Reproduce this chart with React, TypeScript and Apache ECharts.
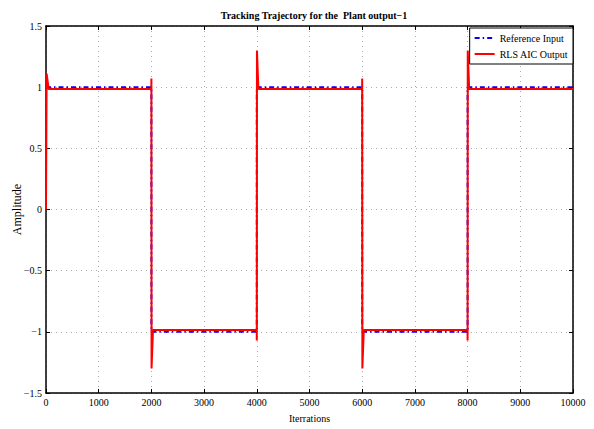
import React, { useEffect, useRef } from "react";
import * as echarts from "echarts";

const refX = [0, 2000, 2000, 4000, 4000, 6000, 6000, 8000, 8000, 10000];
const refY = [1, 1, -1, -1, 1, 1, -1, -1, 1, 1];

const outX = [0, 12, 50, 1998, 2000, 2003, 2030, 3998, 4000, 4003, 4030, 5998, 6000, 6003, 6030, 7998, 8000, 8003, 8030, 10000];
const outY = [0, 1.11, 0.985, 0.985, 1.07, -1.3, -0.985, -0.985, -1.07, 1.3, 0.985, 0.985, 1.07, -1.3, -0.985, -0.985, -1.07, 1.3, 0.985, 0.985];

const FONT = "Liberation Serif";

export default function App() {
  const ref = useRef<HTMLDivElement>(null);
  useEffect(() => {
    if (!ref.current) return;
    const chart = echarts.init(ref.current, undefined, { renderer: "svg" });
    const fmtY = (v: number) => (v < 0 ? "\u2212" + String(-v) : String(v));
    const axisCommon = {
      axisLine: { show: true, onZero: false, lineStyle: { color: "#000", width: 1.5 } },
      axisTick: { show: true, inside: true, length: 4, lineStyle: { color: "#000" } },
    };
    chart.setOption({
      animation: false,
      backgroundColor: "#fff",
      title: {
        text: "Tracking Trajectory for the  Plant output\u22121",
        left: 309,
        textAlign: "center",
        top: 5,
        textStyle: { fontFamily: FONT, fontSize: 10, fontWeight: "bold", color: "#000" },
      },
      legend: {
        orient: "vertical",
        right: 21,
        top: 28,
        itemWidth: 20,
        itemHeight: 10,
        itemGap: 6,
        padding: [5, 5, 5, 4],
        borderColor: "#000",
        borderWidth: 1,
        backgroundColor: "#fff",
        itemStyle: { opacity: 0 },
        textStyle: { fontFamily: FONT, fontSize: 10, color: "#000" },
        data: ["Reference Input", "RLS AIC Output"],
      },
      grid: { left: 46, right: 21, top: 26, bottom: 36, containLabel: false, outerBoundsMode: "none" },
      xAxis: [
        {
          type: "value",
          min: 0,
          max: 10000,
          interval: 1000,
          name: "Iterrations",
          nameLocation: "middle",
          nameGap: 20,
          nameTextStyle: { fontFamily: FONT, fontSize: 10, color: "#000" },
          ...axisCommon,
          axisLabel: { fontFamily: FONT, fontSize: 10, color: "#000", margin: 4, formatter: (v: number) => String(v) },
          splitLine: { show: true, lineStyle: { type: [1, 4], color: "#aaa", width: 1 } },
        },
        {
          type: "value",
          position: "top",
          min: 0,
          max: 10000,
          interval: 1000,
          ...axisCommon,
          axisLabel: { show: false },
          splitLine: { show: false },
        },
      ],
      yAxis: [
        {
          type: "value",
          min: -1.5,
          max: 1.5,
          interval: 0.5,
          name: "Amplitude",
          nameLocation: "middle",
          nameGap: 23,
          nameMoveOverlap: false,
          nameTextStyle: { fontFamily: FONT, fontSize: 12, color: "#000" },
          ...axisCommon,
          axisLabel: { fontFamily: FONT, fontSize: 10, color: "#000", margin: 4, formatter: fmtY },
          splitLine: { show: true, lineStyle: { type: [1, 4], color: "#aaa", width: 1 } },
        },
        {
          type: "value",
          position: "right",
          min: -1.5,
          max: 1.5,
          interval: 0.5,
          ...axisCommon,
          axisLabel: { show: false },
          splitLine: { show: false },
        },
      ],
      series: [
        {
          name: "Reference Input",
          type: "line",
          showSymbol: false,
          symbol: "none",
          color: "#0000ff",
          lineStyle: { color: "#0000ff", width: 2, type: [5, 3, 1.5, 3] },
          data: refX.map((x, i) => [x, refY[i]]),
          z: 2,
        },
        {
          name: "RLS AIC Output",
          type: "line",
          showSymbol: false,
          symbol: "none",
          color: "#ff0000",
          lineStyle: { color: "#ff0000", width: 2 },
          data: outX.map((x, i) => [x, outY[i]]),
          z: 3,
        },
      ],
    });
    return () => chart.dispose();
  }, []);
  return <div ref={ref} style={{ width: 594, height: 429, position: "absolute", left: 0, top: 0 }} />;
}
